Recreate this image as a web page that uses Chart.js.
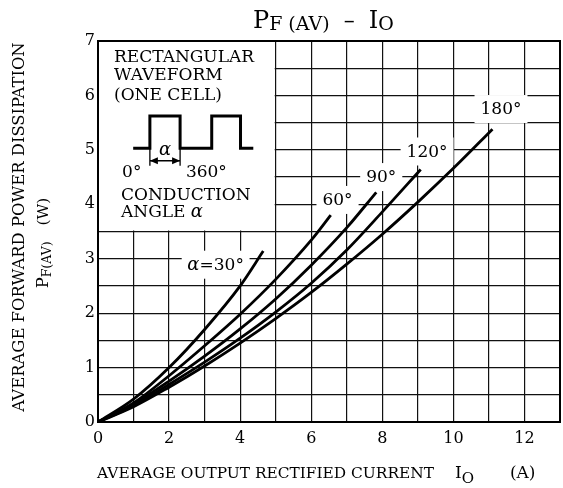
<!DOCTYPE html>
<html>
<head>
<meta charset="utf-8">
<script src="https://cdn.jsdelivr.net/npm/chart.js@4/dist/chart.umd.min.js"></script>
<style>
  html, body { margin: 0; padding: 0; background: #fff; }
  #wrap { width: 563px; height: 488px; }
</style>
</head>
<body>
<div id="wrap"><canvas id="chart"></canvas></div>
<script>
// ---- data ----
const current30 = [0, 1, 2, 3, 4, 4.65];
const power30 = [0, 0.42, 1.0, 1.7, 2.5, 3.14];
const current60 = [0, 1, 2, 3, 4, 5, 6, 6.55];
const power60 = [0, 0.35, 0.85, 1.4, 1.98, 2.62, 3.34, 3.8];
const current90 = [0, 1, 2, 3, 4, 5, 6, 7, 7.83];
const power90 = [0, 0.33, 0.75, 1.21, 1.71, 2.26, 2.88, 3.57, 4.22];
const current120 = [0, 1, 2, 3, 4, 5, 6, 7, 8, 9.08];
const power120 = [0, 0.3, 0.69, 1.1, 1.54, 2.02, 2.55, 3.16, 3.86, 4.64];
const current180 = [0, 1, 2, 3, 4, 5, 6, 7, 8, 9, 10, 11.1];
const power180 = [0, 0.28, 0.64, 1.03, 1.45, 1.9, 2.38, 2.9, 3.45, 4.04, 4.66, 5.38];

const curveLabels = ['α=30°', '60°', '90°', '120°', '180°'];
const labelAtX = [3.31, 6.74, 7.97, 9.26, 11.34];
const labelAtY = [2.89, 4.08, 4.5, 4.97, 5.75];

const xMin = 0, xMax = 13, yMin = 0, yMax = 7;
const xTickLabels = [0, 2, 4, 6, 8, 10, 12];
const yTickLabels = [0, 1, 2, 3, 4, 5, 6, 7];

const SERIF = '"DejaVu Serif", "Liberation Serif", serif';

function pts(xs, ys) {
  return xs.map((x, i) => ({ x: x, y: ys[i] }));
}

function curve(xs, ys) {
  return {
    data: pts(xs, ys),
    borderColor: '#000',
    borderWidth: 2.8,
    pointRadius: 0,
    fill: false,
    cubicInterpolationMode: 'monotone'
  };
}

// draw a run of text pieces with different sizes / baseline shifts
function drawRuns(ctx, runs, x, y, align) {
  let total = 0;
  runs.forEach(r => {
    ctx.font = (r.italic ? 'italic ' : '') + r.size + 'px ' + SERIF;
    r.w = ctx.measureText(r.t).width + (r.gap || 0);
    total += r.w;
  });
  let cx = align === 'center' ? x - total / 2 : x;
  ctx.textAlign = 'left';
  ctx.textBaseline = 'alphabetic';
  runs.forEach(r => {
    ctx.font = (r.italic ? 'italic ' : '') + r.size + 'px ' + SERIF;
    ctx.fillText(r.t, cx, y + (r.dy || 0));
    cx += r.w;
  });
}

// ---- inset box, frame, titles, curve labels ----
const decor = {
  id: 'decor',
  beforeDatasetsDraw(chart) {
    const { ctx, scales: { x, y } } = chart;
    const px = v => x.getPixelForValue(v);
    const py = v => y.getPixelForValue(v);
    ctx.save();
    // white inset panel
    ctx.fillStyle = '#fff';
    ctx.fillRect(px(0) + 1, py(7) + 1, px(5) - px(0) - 2, py(3.5) - py(7) - 2);

    // white patches behind the curve labels (they break the grid)
    ctx.font = '17px ' + SERIF;
    curveLabels.forEach((t, i) => {
      const cx = px(labelAtX[i]);
      const cy = py(labelAtY[i]);
      const w = ctx.measureText(t).width + 12;
      ctx.fillRect(cx - w / 2, cy - 14, w, 28);
    });

    ctx.fillStyle = '#000';
    ctx.font = '17px ' + SERIF;
    ctx.textAlign = 'left';
    ctx.textBaseline = 'alphabetic';
    const left = px(0) + 16;
    ctx.fillText('RECTANGULAR', left, py(6.62));
    ctx.fillText('WAVEFORM', left, py(6.28));
    ctx.fillText('(ONE CELL)', left, py(5.92));
    ctx.fillText('CONDUCTION', left + 7, py(4.08));
    drawRuns(ctx, [{ t: 'ANGLE ', size: 17 }, { t: 'α', size: 18, italic: true }], left + 7, py(3.77));

    // waveform
    const base = py(5.03), high = py(5.62);
    const wx = [0.99, 1.46, 2.31, 3.2, 4.01, 4.37];
    ctx.strokeStyle = '#000';
    ctx.lineWidth = 3;
    ctx.lineJoin = 'miter';
    ctx.beginPath();
    ctx.moveTo(px(wx[0]), base);
    ctx.lineTo(px(wx[1]), base);
    ctx.lineTo(px(wx[1]), high);
    ctx.lineTo(px(wx[2]), high);
    ctx.lineTo(px(wx[2]), base);
    ctx.lineTo(px(wx[3]), base);
    ctx.lineTo(px(wx[3]), high);
    ctx.lineTo(px(wx[4]), high);
    ctx.lineTo(px(wx[4]), base);
    ctx.lineTo(px(wx[5]), base);
    ctx.stroke();

    // alpha dimension arrow
    const ay = py(4.8);
    ctx.lineWidth = 1.3;
    ctx.beginPath();
    ctx.moveTo(px(wx[1]), base);
    ctx.lineTo(px(wx[1]), ay + 5);
    ctx.moveTo(px(wx[2]), base);
    ctx.lineTo(px(wx[2]), ay + 5);
    ctx.moveTo(px(wx[1]), ay);
    ctx.lineTo(px(wx[2]), ay);
    ctx.stroke();
    ctx.beginPath();
    ctx.moveTo(px(wx[1]), ay);
    ctx.lineTo(px(wx[1]) + 8, ay - 3.5);
    ctx.lineTo(px(wx[1]) + 8, ay + 3.5);
    ctx.closePath();
    ctx.moveTo(px(wx[2]), ay);
    ctx.lineTo(px(wx[2]) - 8, ay - 3.5);
    ctx.lineTo(px(wx[2]) - 8, ay + 3.5);
    ctx.closePath();
    ctx.fill();

    ctx.textAlign = 'center';
    ctx.font = 'italic 18px ' + SERIF;
    ctx.fillText('α', (px(wx[1]) + px(wx[2])) / 2, py(4.9));
    ctx.font = '17px ' + SERIF;
    ctx.fillText('0°', px(0.95), py(4.5));
    ctx.fillText('360°', px(3.05), py(4.5));
    ctx.restore();
  },
  afterDatasetsDraw(chart) {
    const { ctx, chartArea: a, scales: { x, y } } = chart;
    ctx.save();
    // curve labels
    ctx.textBaseline = 'middle';
    ctx.fillStyle = '#000';
    curveLabels.forEach((t, i) => {
      const cx = x.getPixelForValue(labelAtX[i]);
      const cy = y.getPixelForValue(labelAtY[i]);
      if (t.startsWith('α')) {
        ctx.font = 'italic 18px ' + SERIF;
        const aw = ctx.measureText('α').width;
        ctx.font = '17px ' + SERIF;
        const rest = t.slice(1);
        const rw = ctx.measureText(rest).width;
        const sx = cx - (aw + rw) / 2;
        ctx.textAlign = 'left';
        ctx.font = 'italic 18px ' + SERIF;
        ctx.fillText('α', sx, cy + 1);
        ctx.font = '17px ' + SERIF;
        ctx.fillText(rest, sx + aw, cy + 1);
      } else {
        ctx.textAlign = 'center';
        ctx.font = '17px ' + SERIF;
        ctx.fillText(t, cx, cy + 1);
      }
    });

    // plot frame
    ctx.strokeStyle = '#000';
    ctx.lineWidth = 2;
    ctx.strokeRect(a.left, a.top, a.right - a.left, a.bottom - a.top);

    // chart title
    drawRuns(ctx, [
      { t: 'P', size: 24 },
      { t: 'F (AV)', size: 19, dy: 2 },
      { t: '  –  ', size: 22 },
      { t: 'I', size: 24 },
      { t: 'O', size: 19, dy: 2 }
    ], 253, 28, 'left');

    // x axis title
    drawRuns(ctx, [
      { t: 'AVERAGE OUTPUT RECTIFIED CURRENT', size: 15.4, gap: 21 },
      { t: 'I', size: 17 },
      { t: 'O', size: 15, dy: 5, gap: 36 },
      { t: '(A)', size: 17 }
    ], 97, 478, 'left');

    // y axis title (rotated)
    ctx.translate(24, 227);
    ctx.rotate(-Math.PI / 2);
    drawRuns(ctx, [{ t: 'AVERAGE FORWARD POWER DISSIPATION', size: 16.4 }], 0, 0, 'center');
    drawRuns(ctx, [
      { t: 'P', size: 16.4 },
      { t: 'F(AV)', size: 12.5, dy: 3, gap: 16 },
      { t: '(W)', size: 15.4 }
    ], -16, 24, 'center');
    ctx.restore();
  }
};

new Chart(document.getElementById('chart'), {
  type: 'line',
  data: {
    datasets: [
      curve(current30, power30),
      curve(current60, power60),
      curve(current90, power90),
      curve(current120, power120),
      curve(current180, power180)
    ]
  },
  options: {
    responsive: true,
    maintainAspectRatio: false,
    animation: false,
    devicePixelRatio: 1,
    layout: { padding: { left: 0, top: 41, right: 3, bottom: 0 } },
    plugins: {
      legend: { display: false },
      tooltip: { enabled: false },
      title: { display: false }
    },
    scales: {
      x: {
        type: 'linear',
        min: xMin,
        max: xMax,
        afterFit: s => { s.height = 66; s.paddingLeft = 0; s.paddingRight = 0; },
        grid: { color: '#111', lineWidth: 1.2, drawTicks: false },
        border: { color: '#000', width: 2 },
        ticks: {
          stepSize: 1,
          padding: 7,
          color: '#000',
          font: { family: SERIF, size: 16 },
          maxRotation: 0,
          autoSkip: false,
          callback: v => (xTickLabels.includes(v) ? String(v) : '')
        }
      },
      y: {
        type: 'linear',
        min: yMin,
        max: yMax,
        afterFit: s => { s.width = 98; s.paddingTop = 0; s.paddingBottom = 0; },
        grid: { color: '#111', lineWidth: 1.2, drawTicks: false },
        border: { color: '#000', width: 2 },
        ticks: {
          stepSize: 0.5,
          padding: 3,
          color: '#000',
          font: { family: SERIF, size: 16 },
          autoSkip: false,
          callback: v => (yTickLabels.includes(v) ? String(v) : '')
        }
      }
    }
  },
  plugins: [decor]
});
</script>
</body>
</html>
